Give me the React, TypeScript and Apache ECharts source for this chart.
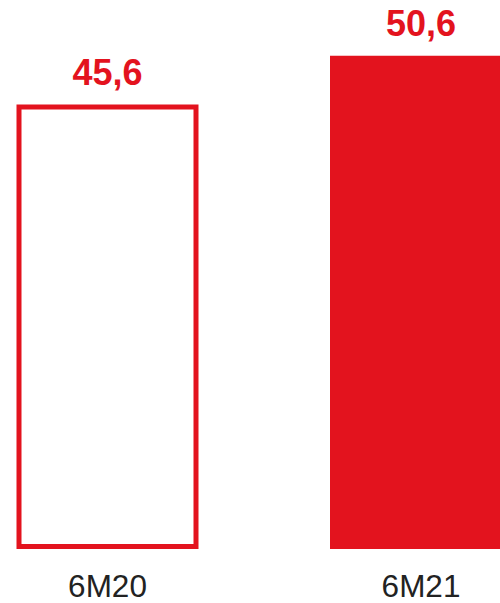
import React, { useEffect, useRef } from "react";
import * as echarts from "echarts";

const categories = ["6M20", "6M21"];
const values = [45.6, 50.6];
const labels = ["45,6", "50,6"];

const RED = "#E3131E";

export default function App() {
  const ref = useRef<HTMLDivElement>(null);
  useEffect(() => {
    if (!ref.current) return;
    const chart = echarts.init(ref.current, null, { renderer: "svg" });
    chart.setOption({
      animation: false,
      grid: {
        left: -49.25,
        width: 627,
        top: 3,
        bottom: 54,
        containLabel: false,
        outerBoundsMode: "none",
      },
      xAxis: {
        type: "category",
        data: categories,
        axisLine: { show: false },
        axisTick: { show: false },
        axisLabel: {
          color: "#222222",
          fontSize: 31.5,
          lineHeight: 26,
          fontFamily: "Liberation Sans, Arial, sans-serif",
          margin: 24,
        },
      },
      yAxis: {
        type: "value",
        min: 0,
        max: 56,
        show: false,
        splitLine: { show: false },
      },
      series: [
        {
          type: "bar",
          barWidth: 182,
          data: values.map((v, i) => ({
            value: v,
            itemStyle:
              i === 0
                ? { color: "#ffffff", borderColor: RED, borderWidth: 5 }
                : { color: RED },
            label: { formatter: labels[i] },
          })),
          label: {
            show: true,
            position: "top",
            distance: 14,
            color: RED,
            fontSize: 36,
            fontWeight: "bold",
            fontFamily: "Liberation Sans, Arial, sans-serif",
          },
        },
      ],
    });
    return () => chart.dispose();
  }, []);
  return (
    <div
      ref={ref}
      style={{ position: "fixed", left: 0, top: 0, width: 500, height: 603, background: "#fff" }}
    />
  );
}
